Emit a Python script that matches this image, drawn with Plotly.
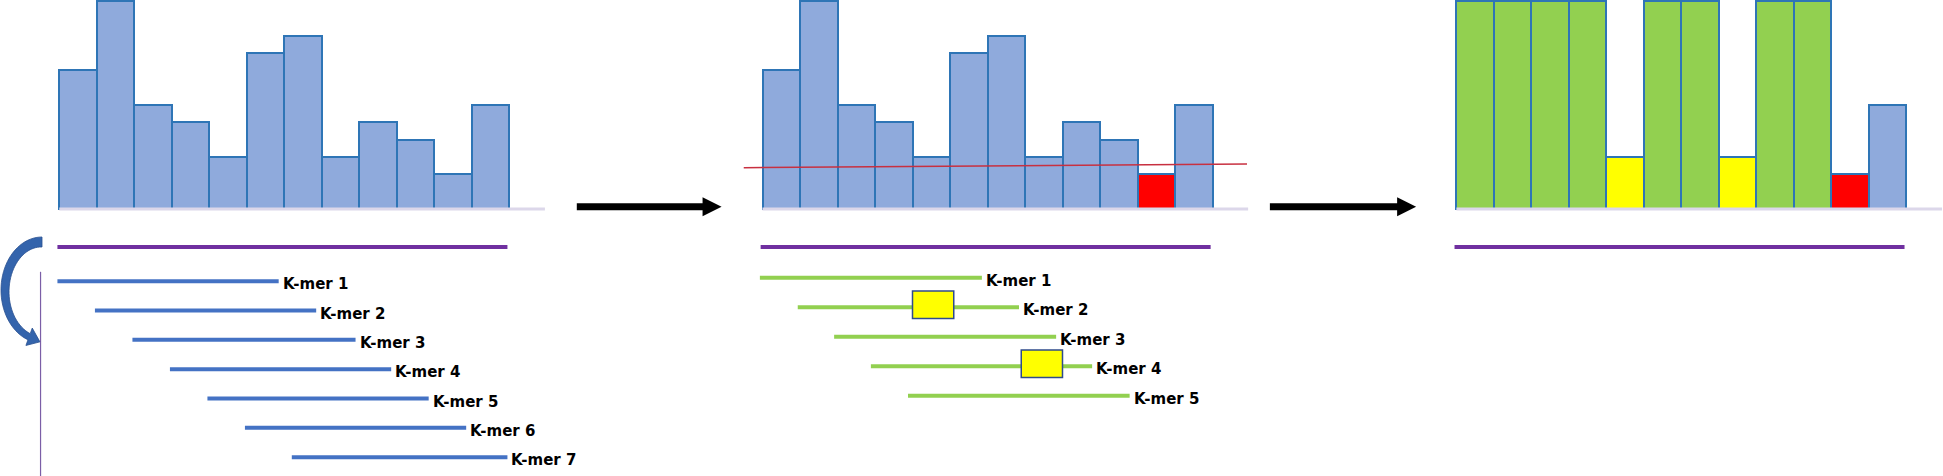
import numpy as np
import plotly.graph_objects as go

# ------------------------------------------------------------------ data
BASES = list(range(12))
COUNTS = [8, 12, 6, 5, 3, 9, 10, 3, 5, 4, 2, 6]                 # k-mer counts per base
PANEL2_STATUS = ["normal"] * 10 + ["low", "normal"]
PANEL3_COUNTS = [12, 12, 12, 12, 3, 12, 12, 3, 12, 12, 2, 6]
PANEL3_STATUS = ["corrected"] * 4 + ["error"] + ["corrected"] * 2 + ["error"] + \
                ["corrected"] * 2 + ["low", "normal"]

KMER1_LABELS = ["K-mer 1", "K-mer 2", "K-mer 3", "K-mer 4", "K-mer 5", "K-mer 6", "K-mer 7"]
KMER1_ROWS = [1, 2, 3, 4, 5, 6, 7]
KMER1_START = [-0.05, 0.95, 1.95, 2.95, 3.95, 4.95, 6.2]
KMER1_END = [5.85, 6.85, 7.9, 8.85, 9.85, 10.85, 11.95]

KMER2_LABELS = ["K-mer 1", "K-mer 2", "K-mer 3", "K-mer 4", "K-mer 5"]
KMER2_ROWS = [1, 2, 3, 4, 5]
KMER2_START = [-0.07, 0.94, 1.91, 2.89, 3.88]
KMER2_END = [5.85, 6.84, 7.83, 8.79, 9.79]

MISMATCH_ROW = [2, 4]
MISMATCH_START = [4.0, 6.9]
MISMATCH_END = [5.1, 8.0]

THRESH_X = [-0.5, 12.92]
THRESH_Y = [2.38, 2.6]

SEQ_START, SEQ_END = -0.05, 11.95
BASELINE_END = 12.95

ARROW_PANEL = [0, 1]
ARROW_X0 = [13.8, 13.53]
ARROW_X1 = [17.66, 17.43]
ARROW_Y = 0.13

# ------------------------------------------------------------------ layout / style
W, H = 1943, 476
BASE_PX = 37.5
PANEL_LEFT_PX = [59.3, 762.5, 1456.4]
BAR_BASE_PX = 209.0
COUNT_PX = 208.0 / 12
SEQ_LINE_PX = 247.0
ROW1_PX = [281.2, 277.7]
ROW_STEP_PX = [29.33, 29.5]

COLORS = {"normal": "#8faadc", "low": "#ff0000", "error": "#ffff00", "corrected": "#92d050"}
BAR_LINE = "#2e75b6"
BASELINE_COLOR = "#dcd7ea"
PURPLE = "#7030a0"
BLUE_KMER = "#4472c4"
GREEN_KMER = "#92d050"
FONT = dict(family="DejaVu Sans", size=15, color="black", weight="bold")

XA = ["x", "x2", "x3"]

fig = go.Figure()

seq_y = -(SEQ_LINE_PX - BAR_BASE_PX) / COUNT_PX
panel_counts = [COUNTS, COUNTS, PANEL3_COUNTS]
panel_status = [["normal"] * 12, PANEL2_STATUS, PANEL3_STATUS]

for p in range(3):
    fig.add_trace(go.Bar(
        x=[b + 0.5 for b in BASES], y=panel_counts[p], width=1.0,
        marker=dict(color=[COLORS[s] for s in panel_status[p]],
                    line=dict(color=BAR_LINE, width=2)),
        xaxis=XA[p], yaxis="y", hoverinfo="skip"))
    fig.add_trace(go.Scatter(
        x=[0, BASELINE_END], y=[0, 0], mode="lines",
        line=dict(color=BASELINE_COLOR, width=3),
        xaxis=XA[p], yaxis="y", hoverinfo="skip"))
    fig.add_trace(go.Scatter(
        x=[SEQ_START, SEQ_END], y=[seq_y, seq_y], mode="lines",
        line=dict(color=PURPLE, width=4),
        xaxis=XA[p], yaxis="y", hoverinfo="skip"))

# threshold line in panel 2
fig.add_trace(go.Scatter(x=THRESH_X, y=THRESH_Y, mode="lines",
                         line=dict(color="#c83040", width=1.5),
                         xaxis="x2", yaxis="y", hoverinfo="skip"))


def kmer_trace(starts, ends, rows, color, xa, ya):
    xs, ys = [], []
    for s, e, r in zip(starts, ends, rows):
        xs += [s, e, None]
        ys += [r, r, None]
    return go.Scatter(x=xs, y=ys, mode="lines", line=dict(color=color, width=4),
                      xaxis=xa, yaxis=ya, hoverinfo="skip")


fig.add_trace(kmer_trace(KMER1_START, KMER1_END, KMER1_ROWS, BLUE_KMER, "x", "y2"))
fig.add_trace(kmer_trace(KMER2_START, KMER2_END, KMER2_ROWS, GREEN_KMER, "x2", "y3"))

annotations = []
for lab, e, r in zip(KMER1_LABELS, KMER1_END, KMER1_ROWS):
    annotations.append(dict(text=lab, x=e, y=r, xref="x", yref="y2", xanchor="left",
                            yanchor="middle", xshift=2, yshift=-3, showarrow=False, font=FONT))
for lab, e, r in zip(KMER2_LABELS, KMER2_END, KMER2_ROWS):
    annotations.append(dict(text=lab, x=e, y=r, xref="x2", yref="y3", xanchor="left",
                            yanchor="middle", xshift=2, yshift=-3, showarrow=False, font=FONT))

shapes = []
for r, s, e in zip(MISMATCH_ROW, MISMATCH_START, MISMATCH_END):
    shapes.append(dict(type="rect", xref="x2", yref="y3", x0=s, x1=e, y0=r - 0.55, y1=r + 0.38,
                       fillcolor="#ffff00", line=dict(color="#2f4b8c", width=1.5), layer="above"))

# black process arrows
for p, x0, x1 in zip(ARROW_PANEL, ARROW_X0, ARROW_X1):
    head_len_units = 19 / BASE_PX
    fig.add_trace(go.Scatter(x=[x0, x1 - head_len_units + 0.05], y=[ARROW_Y, ARROW_Y], mode="lines",
                             line=dict(color="black", width=7),
                             xaxis=XA[p], yaxis="y", hoverinfo="skip"))
    shapes.append(dict(type="path", xref=XA[p], yref="y", xsizemode="pixel", ysizemode="pixel",
                       xanchor=x1, yanchor=ARROW_Y, path="M0,0 L-19,9.4 L-19,-9.4 Z",
                       fillcolor="black", line=dict(color="black", width=0), layer="above"))

# thin vertical guide line and curved arrow next to the k-mer list
fig.add_trace(go.Scatter(x=[-0.5, -0.5], y=[0.68, 8.0], mode="lines",
                         line=dict(color="#7b5ea7", width=1.2),
                         xaxis="x", yaxis="y2", hoverinfo="skip"))

anchor_px = (PANEL_LEFT_PX[0] - 0.5 * BASE_PX, BAR_BASE_PX)
cx, cy, a_o, b_o = 42.0, 290.0, 41.0, 53.0
thetas = np.radians(np.linspace(270, 110, 40))
tk = np.linspace(10.0, 6.5, len(thetas))
outer = [(cx + a_o * np.cos(t), cy + b_o * np.sin(t)) for t in thetas]
inner = [(cx + (a_o - k) * np.cos(t), cy + (b_o - k) * np.sin(t)) for t, k in zip(thetas, tk)]
O, I = np.array(outer[-1]), np.array(inner[-1])
M = (O + I) / 2
te = thetas[-1]
d = np.array([a_o * np.sin(te), -b_o * np.cos(te)]); d /= np.linalg.norm(d)
n = (O - I) / np.linalg.norm(O - I)
half = np.linalg.norm(O - I) / 2 + 6
tip = M + 12 * d
bO, bI = M + n * half, M - n * half
pts = outer + [tuple(bO), tuple(tip), tuple(bI)] + inner[::-1]


def rel(pt):
    return f"{pt[0] - anchor_px[0]:.2f},{-(pt[1] - anchor_px[1]):.2f}"


path = "M" + " L".join(rel(pt) for pt in pts) + " Z"
shapes.append(dict(type="path", xref="x", yref="y", xsizemode="pixel", ysizemode="pixel",
                   xanchor=-0.5, yanchor=0, path=path, fillcolor="#3464ac",
                   line=dict(color="#2a5190", width=0.8), layer="above"))


def xr(p):
    left = PANEL_LEFT_PX[p]
    return [-left / BASE_PX, (W - left) / BASE_PX]


def yr_rows(i):
    top = 1 - ROW1_PX[i] / ROW_STEP_PX[i]
    bot = 1 + (H - ROW1_PX[i]) / ROW_STEP_PX[i]
    return [bot, top]


hidden = dict(visible=False, fixedrange=True)
fig.update_layout(
    width=W, height=H, margin=dict(l=0, r=0, t=0, b=0),
    paper_bgcolor="white", plot_bgcolor="white", showlegend=False,
    barmode="overlay", bargap=0,
    xaxis=dict(range=xr(0), domain=[0, 1], **hidden),
    xaxis2=dict(range=xr(1), overlaying="x", **hidden),
    xaxis3=dict(range=xr(2), overlaying="x", **hidden),
    yaxis=dict(range=[-(H - BAR_BASE_PX) / COUNT_PX, BAR_BASE_PX / COUNT_PX], domain=[0, 1], **hidden),
    yaxis2=dict(range=yr_rows(0), overlaying="y", **hidden),
    yaxis3=dict(range=yr_rows(1), overlaying="y", **hidden),
    annotations=annotations, shapes=shapes,
)

fig.write_html("out.html", config={"displayModeBar": False},
               post_script="document.body.style.margin='0';document.body.style.overflow='hidden';")
